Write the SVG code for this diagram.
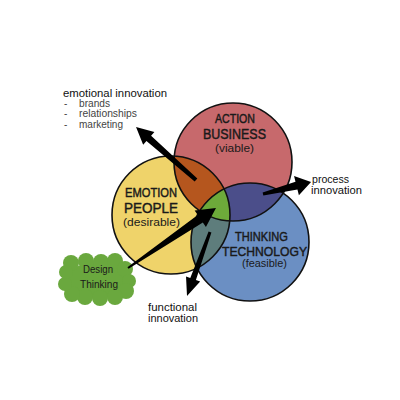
<svg xmlns="http://www.w3.org/2000/svg" width="400" height="400" viewBox="0 0 400 400">
<style>
.ring{fill:none;stroke:#111;stroke-width:1.6}
.cap{font-family:"Liberation Sans",Arial,sans-serif;fill:#1a1a1a;stroke:#1a1a1a;stroke-width:0.45;text-anchor:middle}
.sub{font-family:"Liberation Sans",Arial,sans-serif;fill:#1a1a1a;text-anchor:middle}
.note{font-family:"Liberation Sans",Arial,sans-serif;fill:#111;font-size:10px}
.list{font-family:"Liberation Sans",Arial,sans-serif;fill:#444;font-size:10px}
.arrow{fill:#000}
</style>
<defs>
<clipPath id="cR"><circle cx="233" cy="162" r="59"/></clipPath>
<clipPath id="cY"><circle cx="171" cy="215" r="59"/></clipPath>
</defs>
<rect width="400" height="400" fill="#fff"/>
<g id="venn-fills">
<circle cx="233" cy="162" r="59" fill="#c7696c"/>
<circle cx="171" cy="215" r="59" fill="#efd36a"/>
<circle cx="250" cy="242" r="59" fill="#6b8fc3"/>
<circle cx="171" cy="215" r="59" fill="#b5561e" clip-path="url(#cR)"/>
<circle cx="250" cy="242" r="59" fill="#4b4e8a" clip-path="url(#cR)"/>
<circle cx="250" cy="242" r="59" fill="#5e7d7c" clip-path="url(#cY)"/>
<g clip-path="url(#cR)"><g clip-path="url(#cY)"><circle cx="250" cy="242" r="59" fill="#6daa3a"/></g></g>
</g>
<g id="action">
<circle class="ring" cx="233" cy="162" r="59"/>
<text class="cap" x="235" y="123" font-size="12.5" textLength="40" lengthAdjust="spacingAndGlyphs">ACTION</text>
<text class="cap" x="234.5" y="139" font-size="14" textLength="63" lengthAdjust="spacingAndGlyphs">BUSINESS</text>
<text class="sub" x="234.5" y="152" font-size="11" textLength="39" lengthAdjust="spacingAndGlyphs">(viable)</text>
</g>
<g id="emotion">
<circle class="ring" cx="171" cy="215" r="59"/>
<text class="cap" x="151" y="197" font-size="12.5" textLength="52" lengthAdjust="spacingAndGlyphs">EMOTION</text>
<text class="cap" x="151" y="213" font-size="14" textLength="54" lengthAdjust="spacingAndGlyphs">PEOPLE</text>
<text class="sub" x="151.5" y="226" font-size="11" textLength="57" lengthAdjust="spacingAndGlyphs">(desirable)</text>
</g>
<g id="thinking">
<circle class="ring" cx="250" cy="242" r="59"/>
<text class="cap" x="261.5" y="241" font-size="12.5" textLength="53" lengthAdjust="spacingAndGlyphs">THINKING</text>
<text class="cap" x="264.5" y="255.5" font-size="13.5" textLength="85" lengthAdjust="spacingAndGlyphs">TECHNOLOGY</text>
<text class="sub" x="264.5" y="267" font-size="10.5" textLength="45" lengthAdjust="spacingAndGlyphs">(feasible)</text>
</g>
<g id="design-thinking">
<g fill="#6aa83e">
<ellipse cx="97" cy="280" rx="30" ry="18"/>
<circle cx="71" cy="263" r="8"/><circle cx="86" cy="261" r="8"/><circle cx="101" cy="262" r="8"/>
<circle cx="115" cy="261" r="8"/><circle cx="125" cy="269" r="8"/><circle cx="129" cy="281" r="7"/>
<circle cx="126" cy="291" r="8"/><circle cx="115" cy="297" r="8"/><circle cx="100" cy="298" r="8"/>
<circle cx="85" cy="297" r="8"/><circle cx="72" cy="294" r="8"/><circle cx="65" cy="284" r="7"/>
<circle cx="66" cy="272" r="7"/>
</g>
<text class="sub" x="98" y="273" font-size="11" textLength="30" lengthAdjust="spacingAndGlyphs" fill="#1d2a12">Design</text>
<text class="sub" x="99" y="288" font-size="11" textLength="38" lengthAdjust="spacingAndGlyphs" fill="#1d2a12">Thinking</text>
</g>
<g id="emotional-innovation">
<text class="note" x="63" y="97" textLength="104" lengthAdjust="spacingAndGlyphs">emotional innovation</text>
<text class="list" x="64" y="107">-</text><text class="list" x="79" y="107" textLength="31" lengthAdjust="spacingAndGlyphs">brands</text>
<text class="list" x="64" y="117">-</text><text class="list" x="79" y="117" textLength="58" lengthAdjust="spacingAndGlyphs">relationships</text>
<text class="list" x="64" y="128">-</text><text class="list" x="79" y="128" textLength="44" lengthAdjust="spacingAndGlyphs">marketing</text>
</g>
<g id="process-innovation">
<text class="note" x="312" y="183" textLength="37" lengthAdjust="spacingAndGlyphs">process</text>
<text class="note" x="311" y="194" textLength="51" lengthAdjust="spacingAndGlyphs">innovation</text>
</g>
<g id="functional-innovation">
<text class="note" x="148" y="311" textLength="49" lengthAdjust="spacingAndGlyphs">functional</text>
<text class="note" x="148" y="322" textLength="50" lengthAdjust="spacingAndGlyphs">innovation</text>
</g>
<g id="connectors">
<path class="arrow" transform="translate(196,180) rotate(-138.55)" d="M0,-2 L63,-3.5 L63,-8.5 L80,0 L63,8.5 L63,3.5 L0,2 Z"/>
<path class="arrow" transform="translate(263,194) rotate(-14.04)" d="M0,-1.5 L34.5,-4 L34.5,-10 L49.5,0 L34.5,10 L34.5,4 L0,1.5 Z"/>
<path class="arrow" transform="translate(210,232) rotate(109.77)" d="M0,-1.5 L50,-3 L50,-7.5 L68,0 L50,7.5 L50,3 L0,1.5 Z"/>
<path class="arrow" transform="translate(128,268) rotate(-34.29)" d="M0,-1 L87.5,-4.5 L87.5,-10 L106.5,0 L87.5,10 L87.5,4.5 L0,1 Z"/>
</g>
</svg>
